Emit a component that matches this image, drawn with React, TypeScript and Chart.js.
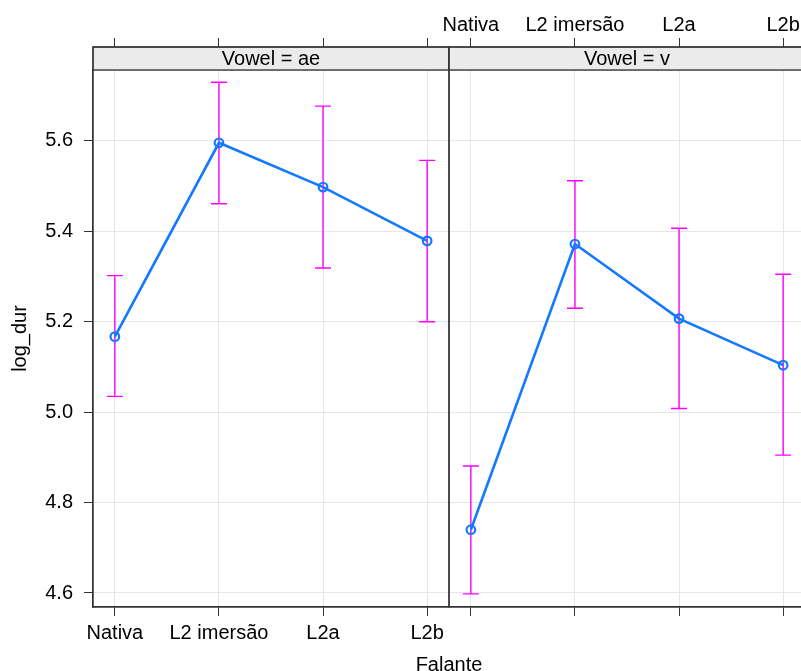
import React, { useEffect, useRef } from "react";
import { Chart, registerables } from "chart.js";

Chart.register(...registerables);

// ---- data ----
const categories = ["Nativa", "L2 imersão", "L2a", "L2b"];
const panelLabels = ["Vowel = ae", "Vowel = v"];

const aeFit = [5.167, 5.596, 5.498, 5.379];
const aeLower = [5.035, 5.461, 5.319, 5.2];
const aeUpper = [5.302, 5.73, 5.677, 5.557];

const vFit = [4.74, 5.372, 5.207, 5.104];
const vLower = [4.598, 5.23, 5.008, 4.905];
const vUpper = [4.881, 5.512, 5.407, 5.305];

const yTicks = [4.6, 4.8, 5.0, 5.2, 5.4, 5.6];
const yMin = 4.569;
const yMax = 5.757;

const xTitle = "Falante";
const yTitle = "log_dur";

// ---- layout helpers ----
const PAD = 0.21;
const SPAN = categories.length - 1 + 2 * PAD;
const STRIP_H = 23;

const panelData = [
  { label: panelLabels[0], fit: aeFit, lower: aeLower, upper: aeUpper },
  { label: panelLabels[1], fit: vFit, lower: vLower, upper: vUpper },
];

const catX = (panel: number, i: number) => panel * SPAN + i + 1;
const tickPositions = panelData.flatMap((_, p) => categories.map((_, i) => catX(p, i)));

const FONT = { family: "'Liberation Sans', Arial, sans-serif", size: 20, lineHeight: 1.2 };
const LINE_COL = "#1479ff";
const CI_COL = "#ff00ff";
const GRID_COL = "#e6e6e6";
const FRAME_COL = "#333333";

const effectsPlugin = {
  id: "effectsPanels",
  beforeDatasetsDraw(chart: any) {
    const { ctx, scales } = chart;
    const x = scales.x;
    const y = scales.y;
    ctx.save();
    ctx.strokeStyle = CI_COL;
    ctx.lineWidth = 1.4;
    panelData.forEach((pd, p) => {
      pd.fit.forEach((_, i) => {
        const px = x.getPixelForValue(catX(p, i));
        const y1 = y.getPixelForValue(pd.lower[i]);
        const y2 = y.getPixelForValue(pd.upper[i]);
        ctx.beginPath();
        ctx.moveTo(px, y1);
        ctx.lineTo(px, y2);
        ctx.moveTo(px - 8, y1);
        ctx.lineTo(px + 8, y1);
        ctx.moveTo(px - 8, y2);
        ctx.lineTo(px + 8, y2);
        ctx.stroke();
      });
    });
    ctx.restore();
  },
  afterDraw(chart: any) {
    const { ctx, chartArea, scales } = chart;
    const x = scales.x;
    const top = chartArea.top - STRIP_H;
    ctx.save();
    panelData.forEach((pd, p) => {
      const xl = x.getPixelForValue(p * SPAN + 1 - PAD);
      const xr = x.getPixelForValue(p * SPAN + categories.length + PAD);
      ctx.fillStyle = "#ebebeb";
      ctx.fillRect(xl, top, xr - xl, STRIP_H);
      ctx.strokeStyle = FRAME_COL;
      ctx.lineWidth = 1.3;
      ctx.strokeRect(xl, top, xr - xl, STRIP_H);
      ctx.strokeRect(xl, top, xr - xl, chartArea.bottom - top);
      ctx.fillStyle = "#000";
      ctx.font = `${FONT.size}px ${FONT.family}`;
      ctx.textAlign = "center";
      ctx.textBaseline = "middle";
      ctx.fillText(pd.label, (xl + xr) / 2, top + STRIP_H / 2 + 0.5);
    });
    ctx.restore();
  },
};

export default function App() {
  const ref = useRef<HTMLCanvasElement | null>(null);

  useEffect(() => {
    if (!ref.current) return;
    const datasets = panelData.map((pd, p) => ({
      label: pd.label,
      data: pd.fit.map((v, i) => ({ x: catX(p, i), y: v })),
      borderColor: LINE_COL,
      borderWidth: 2.6,
      pointRadius: 4.3,
      pointBorderWidth: 2.2,
      pointBorderColor: LINE_COL,
      pointBackgroundColor: "rgba(0,0,0,0)",
      tension: 0,
      fill: false,
    }));

    const xMin = 1 - PAD;
    const xMax = panelData.length * SPAN + 1 - PAD;

    const chart = new Chart(ref.current, {
      type: "line",
      data: { datasets },
      plugins: [effectsPlugin],
      options: {
        animation: false,
        responsive: false,
        layout: { padding: 0, autoPadding: false },
        plugins: { legend: { display: false }, tooltip: { enabled: false } },
        scales: {
          x: {
            type: "linear",
            position: "bottom",
            min: xMin,
            max: xMax,
            afterBuildTicks: (s: any) => {
              s.ticks = tickPositions.map((v) => ({ value: v }));
            },
            afterFit: (s: any) => {
              s.height = 64;
            },
            ticks: {
              autoSkip: false,
              maxRotation: 0,
              padding: 5,
              color: "#000",
              font: FONT,
              callback: (_v: any, i: number) => (i < categories.length ? categories[i] : ""),
            },
            grid: { color: GRID_COL, tickColor: FRAME_COL, tickLength: 9, lineWidth: 1 },
            border: { display: true, color: FRAME_COL, width: 1.3 },
            title: {
              display: true,
              text: xTitle,
              color: "#000",
              font: FONT,
              padding: { top: 0, bottom: -6 },
            },
          },
          x2: {
            type: "linear",
            position: "top",
            min: xMin,
            max: xMax,
            afterBuildTicks: (s: any) => {
              s.ticks = tickPositions.map((v) => ({ value: v }));
            },
            afterFit: (s: any) => {
              s.height = 70;
            },
            ticks: {
              autoSkip: false,
              maxRotation: 0,
              padding: 1,
              color: "#000",
              font: FONT,
              callback: (_v: any, i: number) =>
                i >= categories.length ? categories[i - categories.length] : "",
            },
            grid: { drawOnChartArea: false, tickColor: FRAME_COL, tickLength: 32 },
            border: { display: true, color: FRAME_COL, width: 1.3 },
          },
          y: {
            type: "linear",
            min: yMin,
            max: yMax,
            afterBuildTicks: (s: any) => {
              s.ticks = yTicks.map((v) => ({ value: v }));
            },
            afterFit: (s: any) => {
              s.width = 93;
            },
            ticks: {
              padding: 11,
              color: "#000",
              font: FONT,
              callback: (v: any) => Number(v).toFixed(1),
            },
            grid: { color: GRID_COL, tickColor: FRAME_COL, tickLength: 9, lineWidth: 1 },
            border: { display: true, color: FRAME_COL, width: 1.3 },
            title: {
              display: true,
              text: yTitle,
              color: "#000",
              font: FONT,
              padding: { top: 8, bottom: 0 },
            },
          },
        },
      } as any,
    });
    return () => chart.destroy();
  }, []);

  return (
    <div
      style={{
        position: "absolute",
        left: 0,
        top: 0,
        width: 801,
        height: 671,
        overflow: "hidden",
        background: "#fff",
      }}
    >
      <canvas ref={ref} width={805} height={671} style={{ display: "block", width: 805, height: 671 }} />
    </div>
  );
}
